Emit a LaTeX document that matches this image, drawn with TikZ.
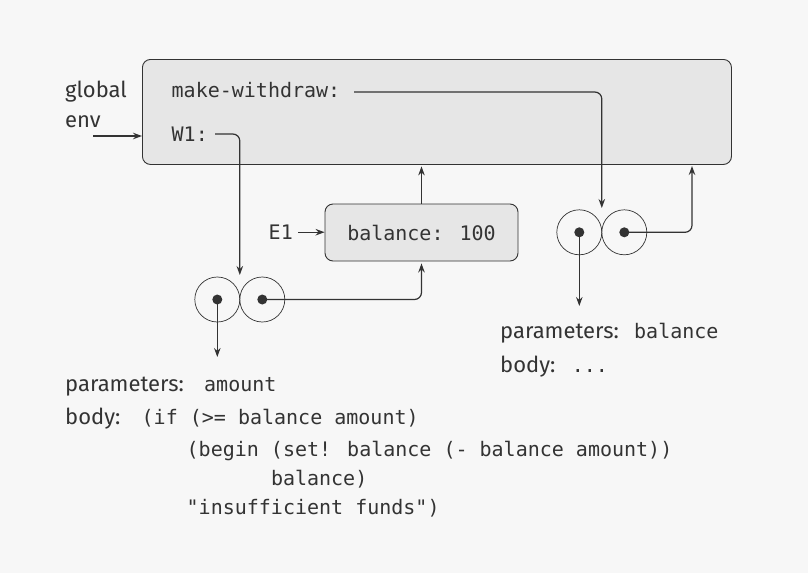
\documentclass[tikz,border=0pt]{standalone}
\usepackage{fontspec}
\setmainfont{Fira Sans}
\newfontfamily\monof{DejaVu Sans Mono}
\usetikzlibrary{arrows.meta}
\definecolor{bgc}{HTML}{F7F7F7}
\definecolor{boxc}{HTML}{E6E6E6}
\definecolor{inkc}{HTML}{333333}
\begin{document}
\begin{tikzpicture}[x=1pt,y=-1pt,
  mono/.style={font=\monof\fontsize{20}{24}\selectfont, text=inkc, inner sep=0pt, anchor=base west},
  lab/.style={font=\fontsize{22}{26}\selectfont, text=inkc, inner sep=0pt, anchor=base west},
  envbox/.style={draw=inkc, fill=boxc, rounded corners=8pt, line width=0.9pt, inner sep=0pt},
  cell/.style={circle, draw=inkc, line width=0.7pt, minimum size=45pt, inner sep=0pt},
  dotc/.style={circle, fill=inkc, minimum size=10pt, inner sep=0pt},
  ptr/.style={draw=inkc, line width=1.2pt, -{Stealth[length=9pt,width=6.5pt]}, rounded corners=7pt}]
\fill[bgc] (0,0) rectangle (808,573);
\useasboundingbox (0,0) rectangle (808,573);

% global environment
\node[envbox, minimum width=589pt, minimum height=105pt, anchor=north west] (G) at (142,59) {};
\node[mono] (mw) at (171.5,97) {make-withdraw:};
\node[mono] (w1) at (171.5,141) {W1:};
\node[lab] (glob) at (65,97) {global};
\node[lab] (env) at (65,127) {env};
\coordinate (ge) at (93,136);
\draw[ptr] (ge) -- (G.west |- ge);

% E1 frame
\node[envbox, mono, anchor=center, minimum width=193pt, minimum height=57pt] (E) at (421.5,232.5) {balance: 100};
\node[mono, anchor=base east] (e1) at (293,239.5) {E1};
\draw[ptr] ([xshift=5pt]e1.east) -- (e1.east -| E.west);
\draw[ptr, shorten >=1.5pt] (E.north) -- (E.north |- G.south);

% left procedure object
\node[cell] (LA) at (217.3,299.5) {};
\node[cell] (LB) at (262.3,299.5) {};
\node[dotc] (LAd) at (LA) {};
\node[dotc] (LBd) at (LB) {};

% right procedure object
\node[cell] (RA) at (579.3,232.3) {};
\node[cell] (RB) at (624.3,232.3) {};
\node[dotc] (RAd) at (RA) {};
\node[dotc] (RBd) at (RB) {};

% connectors
\coordinate (mwo) at (354,92);
\coordinate (Rtop) at (601.8,208);
\draw[ptr] (mwo) -| (Rtop);
\coordinate (w1o) at (215,134);
\coordinate (Ltop) at (239.8,275);
\draw[ptr] (w1o) -| (Ltop);
\draw[ptr, shorten >=2pt] (LBd.center) -| (E.south);
\coordinate (Lpar) at (217.3,357);
\draw[ptr] (LAd.center) -- (Lpar);
\coordinate (Rpar) at (579.3,306);
\draw[ptr] (RAd.center) -- (Rpar);
\coordinate (Gr) at (692,164);
\draw[ptr, shorten >=2pt] (RBd.center) -| (Gr);

% left procedure text
\node[lab] (p1) at (65,391) {parameters:};
\node[mono] (p1v) at (204,391) {amount};
\node[lab] (b1) at (65,424) {body:};
\node[mono] (b1a) at (141.5,424) {(if (>= balance amount)};
\node[mono] (b1b) at (186.5,456.5) {(begin (set! balance (- balance amount))};
\node[mono] (b1c) at (270.8,485) {balance)};
\node[mono] (b1d) at (186.5,514) {"insufficient funds")};

% right procedure text
\node[lab] (p2) at (500,338) {parameters:};
\node[mono] (p2v) at (634,338) {balance};
\node[lab] (b2) at (500,372) {body:};
\node[mono] (b2v) at (571.7,372) {...};
\end{tikzpicture}
\end{document}
